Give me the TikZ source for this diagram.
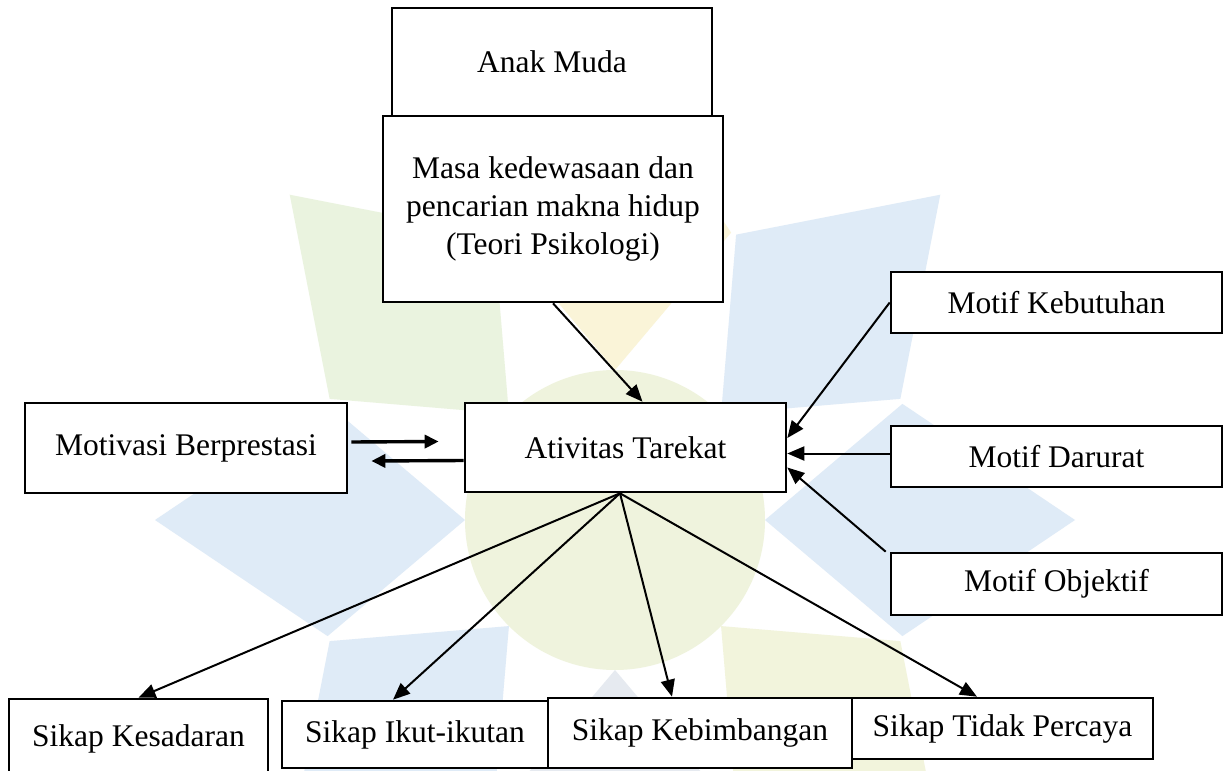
\documentclass[tikz,border=0pt]{standalone}
\usepackage{fontspec}
\setmainfont{Liberation Serif}
\usetikzlibrary{arrows.meta}
\definecolor{wblue}{HTML}{DFEBF7}
\definecolor{wgreen}{HTML}{EAF3DF}
\definecolor{wyellow}{HTML}{FAF4D8}
\definecolor{wgrey}{HTML}{E6EAF0}
\begin{document}
\begin{tikzpicture}[x=1pt,y=-1pt,
  bx/.style={draw=black, line width=2.6pt, fill=white, inner sep=0pt,
    font=\fontsize{31.5pt}{38.3pt}\selectfont, align=center},
  arr/.style={line width=2pt, -{Triangle[length=17pt,width=14pt]}},
  thickarr/.style={line width=3.4pt, -{Triangle[length=14pt,width=13pt]}}]
\useasboundingbox (0,0) rectangle (1227,771);
\fill[white] (0,0) rectangle (1227,771);
% faint watermark in the background
\begin{scope}[shift={(615,520)}]
  \fill[wgreen!70!wyellow] (0,0) circle (150);
  \foreach \a/\c in {0/wblue,45/wblue,90/wyellow,135/wgreen,180/wblue,225/wblue,270/wgrey,315/wgreen!50!wyellow}{
    \fill[\c] (-\a:150) -- (-\a-22:310) -- (-\a:460) -- (-\a+22:310) -- cycle;
  }
\end{scope}
\node[bx, minimum width=320pt, minimum height=108pt] (anak) at (552,62) {Anak Muda};
\node[bx, minimum width=340pt, minimum height=186pt] (masa) at (553,209)
  {Masa kedewasaan dan\\pencarian makna hidup\\(Teori Psikologi)};
\node[bx, minimum width=321pt, minimum height=89pt] (ativ) at (625.5,447.5) {Ativitas Tarekat};
\node[bx, minimum width=322pt, minimum height=90pt] (motiv) at (186,448) {Motivasi Berprestasi};
\node[bx, minimum width=331pt, minimum height=61pt] (keb) at (1056.5,302.5) {Motif Kebutuhan};
\node[bx, minimum width=331pt, minimum height=61pt] (dar) at (1056.5,456.5) {Motif Darurat};
\node[bx, minimum width=331pt, minimum height=62pt] (obj) at (1056.5,584) {Motif Objektif};
\node[bx, minimum width=259pt, minimum height=79pt] (kes) at (138.5,738.5) {Sikap Kesadaran};
\node[bx, minimum width=266pt, minimum height=67pt] (ikut) at (415,734.5) {Sikap Ikut-ikutan};
\node[bx, minimum width=304pt, minimum height=70pt] (bimb) at (700,733) {Sikap Kebimbangan};
\node[bx, minimum width=301pt, minimum height=61pt] (tidak) at (1002.5,728.5) {Sikap Tidak Percaya};
% connectors
\draw[arr] (masa.south) -- ([xshift=17pt]ativ.north);
\draw[arr] (keb.west) -- ([yshift=9.5pt]ativ.east);
\draw[arr] ([yshift=3pt]dar.west) -- ([yshift=-6pt]ativ.east);
\draw[arr] ([xshift=-4pt]obj.north west) -- ([yshift=-20pt]ativ.east);
\draw[thickarr] ([xshift=3pt,yshift=6pt]motiv.east) -- ([xshift=-25pt,yshift=6pt]ativ.west);
\draw[thickarr] ([yshift=-13pt]ativ.west) -- ([xshift=23pt,yshift=-13pt]motiv.east);
\draw[arr] ([xshift=-5.5pt]ativ.south) -- (kes.north);
\draw[arr] ([xshift=-5.5pt]ativ.south) -- ([xshift=-22pt]ikut.north);
\draw[arr] ([xshift=-5.5pt]ativ.south) -- ([xshift=-28pt]bimb.north);
\draw[arr] ([xshift=-5.5pt]ativ.south) -- ([xshift=-25.5pt]tidak.north);
\end{tikzpicture}
\end{document}
